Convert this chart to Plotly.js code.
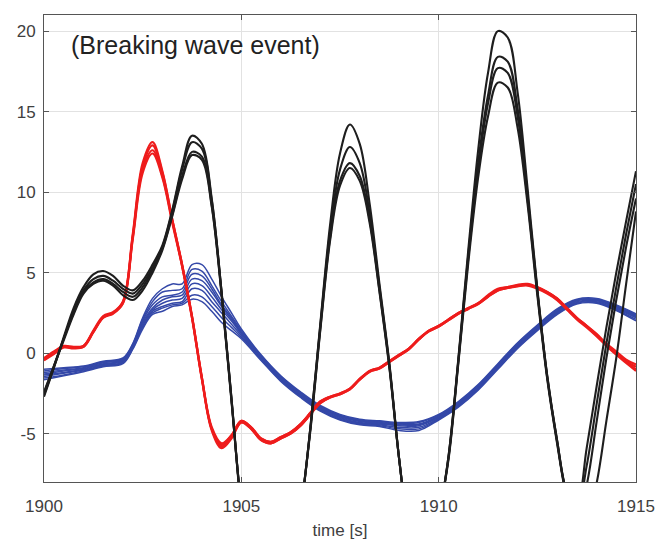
<!DOCTYPE html>
<html>
<head>
<meta charset="utf-8">
<script src="https://cdn.plot.ly/plotly-3.0.1.min.js"></script>
<style>
  html, body { margin: 0; padding: 0; background: #fff; }
  #chart { width: 657px; height: 540px; }
</style>
</head>
<body>
<div id="chart"></div>
<script>
// Time samples (s) for the surface-elevation and red records
const timeFine = [
  1900.00, 1900.25, 1900.50, 1900.75, 1901.00, 1901.25, 1901.50, 1901.75,
  1902.00, 1902.25, 1902.50, 1902.75, 1903.00, 1903.25, 1903.50, 1903.75,
  1904.00, 1904.25, 1904.50, 1904.75, 1905.00, 1905.25, 1905.50, 1905.75,
  1906.00, 1906.25, 1906.50, 1906.75, 1907.00, 1907.25, 1907.50, 1907.75,
  1908.00, 1908.25, 1908.50, 1908.75, 1909.00, 1909.25, 1909.50, 1909.75,
  1910.00, 1910.25, 1910.50, 1910.75, 1911.00, 1911.25, 1911.50, 1911.75,
  1912.00, 1912.25, 1912.50, 1912.75, 1913.00, 1913.25, 1913.50, 1913.75,
  1914.00, 1914.25, 1914.50, 1914.75, 1915.00
];

// Black records (four runs)
const blackA = [-2.7, -0.9, 1.0, 2.8, 4.1, 4.9, 5.1, 4.8, 4.2, 3.9, 4.5, 5.5, 6.7, 8.9, 11.6, 13.5,
  13.0, 9.6, 3.8, -2.8, -9.8, -14.2, -16.6, -17.0, -16.0, -13.6, -10.0, -4.6, 1.8, 8.0, 12.4, 14.2,
  13.0, 9.3, 4.3, -0.6, -6.6, -11.4, -14.0, -13.6, -10.4, -6.4, -0.3, 6.4, 12.6, 17.4, 20.0, 19.6,
  16.2, 10.3, 4.0, -1.4, -5.4, -8.6, -9.4, -5.9, -2.1, 1.6, 5.0, 8.2, 11.3];
const blackB = [-2.6, -0.9, 0.9, 2.6, 3.9, 4.6, 4.8, 4.5, 4.0, 3.7, 4.3, 5.3, 6.6, 8.8, 11.4, 13.1,
  12.7, 9.5, 3.8, -2.8, -9.6, -14.0, -16.4, -16.8, -15.8, -13.4, -9.9, -4.6, 1.7, 7.6, 11.4, 12.8,
  11.8, 8.7, 4.1, -0.7, -6.6, -11.3, -13.8, -13.4, -10.3, -6.4, -0.4, 6.1, 11.8, 16.0, 18.4, 18.1,
  15.2, 9.9, 3.9, -1.4, -5.4, -8.7, -9.8, -7.0, -3.2, 0.6, 4.1, 7.4, 10.5];
const blackC = [-2.5, -0.8, 0.9, 2.5, 3.8, 4.4, 4.6, 4.3, 3.8, 3.5, 4.1, 5.2, 6.5, 8.6, 11.0, 12.5,
  12.2, 9.2, 3.7, -2.9, -9.6, -13.9, -16.2, -16.6, -15.6, -13.3, -9.8, -4.7, 1.5, 7.2, 10.7, 11.8,
  11.0, 8.3, 3.9, -0.8, -6.6, -11.2, -13.6, -13.2, -10.2, -6.5, -0.5, 5.9, 11.4, 15.5, 17.7, 17.4,
  14.7, 9.6, 3.8, -1.5, -5.5, -8.9, -10.4, -8.2, -4.3, -0.3, 3.3, 6.6, 9.6];
const blackD = [-2.4, -0.8, 0.8, 2.4, 3.7, 4.3, 4.5, 4.2, 3.6, 3.3, 3.9, 5.0, 6.4, 8.5, 10.8, 12.3,
  12.0, 9.1, 3.6, -3.0, -9.5, -13.8, -16.1, -16.5, -15.5, -13.2, -9.8, -4.8, 1.4, 7.0, 10.4, 11.5,
  10.7, 8.1, 3.8, -0.9, -6.6, -11.1, -13.5, -13.1, -10.2, -6.6, -0.6, 5.6, 10.9, 14.7, 16.8, 16.5,
  14.0, 9.3, 3.6, -1.6, -5.6, -9.1, -11.2, -10.4, -8.1, -4.2, -0.3, 4.3, 8.8];

// Red records (four runs)
const redA = [-0.3, 0.1, 0.45, 0.4, 0.45, 1.4, 2.3, 2.55, 3.2, 7.4, 11.8, 13.1, 11.3, 8.3, 5.5, 2.3,
  -1.5, -4.7, -5.7, -5.1, -4.2, -4.6, -5.3, -5.5, -5.2, -4.9, -4.4, -3.7, -3.0, -2.7, -2.5, -2.2,
  -1.6, -1.1, -0.9, -0.5, -0.1, 0.3, 0.9, 1.4, 1.7, 2.1, 2.5, 2.8, 3.1, 3.6, 4.0, 4.1,
  4.25, 4.3, 4.1, 3.8, 3.4, 2.8, 2.2, 1.7, 1.2, 0.6, 0.1, -0.4, -0.7];
const redB = [-0.35, 0.05, 0.4, 0.35, 0.45, 1.35, 2.25, 2.5, 3.2, 7.3, 11.6, 12.9, 11.2, 8.3, 5.5, 2.3,
  -1.5, -4.6, -5.6, -5.1, -4.2, -4.6, -5.3, -5.5, -5.2, -4.9, -4.4, -3.7, -3.0, -2.7, -2.5, -2.2,
  -1.6, -1.1, -0.9, -0.5, -0.1, 0.3, 0.9, 1.4, 1.7, 2.1, 2.5, 2.8, 3.1, 3.55, 3.95, 4.1,
  4.2, 4.25, 4.1, 3.8, 3.4, 2.8, 2.2, 1.7, 1.15, 0.55, 0.0, -0.5, -0.85];
const redC = [-0.4, 0.0, 0.4, 0.35, 0.4, 1.3, 2.2, 2.5, 3.1, 7.2, 11.4, 12.6, 11.0, 8.2, 5.4, 2.2,
  -1.6, -4.7, -5.8, -5.2, -4.3, -4.7, -5.4, -5.6, -5.3, -5.0, -4.5, -3.8, -3.1, -2.75, -2.55, -2.25,
  -1.65, -1.15, -0.95, -0.55, -0.15, 0.25, 0.85, 1.35, 1.65, 2.05, 2.45, 2.75, 3.05, 3.5, 3.9, 4.05,
  4.2, 4.25, 4.05, 3.75, 3.35, 2.75, 2.15, 1.65, 1.1, 0.5, -0.05, -0.55, -1.0];
const redD = [-0.45, -0.05, 0.35, 0.3, 0.4, 1.3, 2.2, 2.45, 3.1, 7.1, 11.2, 12.4, 10.9, 8.1, 5.4, 2.2,
  -1.6, -4.8, -5.9, -5.3, -4.3, -4.7, -5.4, -5.6, -5.3, -5.0, -4.5, -3.8, -3.1, -2.75, -2.55, -2.25,
  -1.65, -1.15, -0.95, -0.55, -0.15, 0.25, 0.85, 1.35, 1.65, 2.05, 2.45, 2.75, 3.05, 3.5, 3.9, 4.05,
  4.15, 4.2, 4.0, 3.7, 3.3, 2.7, 2.1, 1.6, 1.05, 0.45, -0.1, -0.6, -1.1];

// Time samples (s) for the blue records
const timeBlue = [1900, 1900.5, 1901, 1901.5, 1902, 1902.25, 1902.5, 1902.75, 1903, 1903.25,
  1903.5, 1903.75, 1904, 1904.25, 1904.5, 1904.75, 1905, 1905.5, 1906, 1906.5, 1907, 1907.5,
  1908, 1908.5, 1909, 1909.5, 1910, 1910.5, 1911, 1911.5, 1912, 1912.5, 1913, 1913.5, 1914,
  1914.5, 1915];

// Blue records (eight runs)
const blue1 = [-1.0, -0.9, -0.8, -0.5, -0.3, 0.6, 2.2, 3.4, 4.0, 4.3, 4.3, 5.5, 5.5, 4.6, 3.5, 2.5, 1.5,
  -0.1, -1.4, -2.4, -3.25, -3.8, -4.1, -4.2, -4.3, -4.25, -3.8, -3.0, -1.95, -0.65, 0.65, 1.75, 2.75, 3.35, 3.4, 3.0, 2.45];
const blue2 = [-1.1, -0.95, -0.85, -0.55, -0.35, 0.55, 2.1, 3.2, 3.8, 3.9, 4.0, 5.2, 5.1, 4.2, 3.2, 2.3, 1.4,
  -0.15, -1.45, -2.45, -3.3, -3.85, -4.15, -4.25, -4.35, -4.3, -3.85, -3.05, -2.0, -0.7, 0.6, 1.7, 2.7, 3.3, 3.35, 2.95, 2.4];
const blue3 = [-1.2, -1.05, -0.9, -0.6, -0.4, 0.5, 2.0, 3.0, 3.5, 3.6, 3.8, 4.9, 4.8, 4.0, 3.0, 2.2, 1.3,
  -0.2, -1.5, -2.5, -3.35, -3.9, -4.2, -4.3, -4.4, -4.4, -3.9, -3.1, -2.05, -0.75, 0.55, 1.65, 2.65, 3.3, 3.3, 2.9, 2.35];
const blue4 = [-1.3, -1.1, -0.95, -0.65, -0.45, 0.45, 1.9, 2.8, 3.3, 3.5, 3.6, 4.6, 4.5, 3.8, 2.9, 2.1, 1.25,
  -0.25, -1.55, -2.55, -3.4, -3.95, -4.25, -4.35, -4.45, -4.45, -3.95, -3.15, -2.1, -0.8, 0.5, 1.6, 2.6, 3.25, 3.3, 2.85, 2.3];
const blue5 = [-1.35, -1.2, -1.0, -0.7, -0.5, 0.4, 1.8, 2.7, 3.1, 3.3, 3.4, 4.3, 4.2, 3.5, 2.7, 2.0, 1.2,
  -0.3, -1.6, -2.6, -3.45, -4.0, -4.3, -4.4, -4.5, -4.5, -4.0, -3.2, -2.15, -0.85, 0.45, 1.55, 2.55, 3.2, 3.25, 2.8, 2.25];
const blue6 = [-1.45, -1.25, -1.05, -0.75, -0.55, 0.35, 1.7, 2.6, 2.9, 3.1, 3.2, 4.0, 3.9, 3.2, 2.5, 1.8, 1.1,
  -0.35, -1.65, -2.65, -3.5, -4.05, -4.35, -4.45, -4.6, -4.6, -4.05, -3.25, -2.2, -0.9, 0.4, 1.5, 2.5, 3.15, 3.2, 2.75, 2.2];
const blue7 = [-1.55, -1.35, -1.1, -0.8, -0.6, 0.3, 1.6, 2.5, 2.8, 3.0, 3.1, 3.6, 3.5, 2.9, 2.2, 1.6, 1.0,
  -0.4, -1.7, -2.7, -3.55, -4.1, -4.4, -4.5, -4.7, -4.7, -4.1, -3.3, -2.25, -0.95, 0.35, 1.45, 2.45, 3.1, 3.15, 2.7, 2.1];
const blue8 = [-1.65, -1.4, -1.15, -0.85, -0.65, 0.25, 1.5, 2.4, 2.6, 2.9, 3.0, 3.35, 3.2, 2.6, 1.9, 1.4, 0.9,
  -0.45, -1.75, -2.75, -3.6, -4.15, -4.45, -4.55, -4.8, -4.8, -4.15, -3.35, -2.3, -1.0, 0.3, 1.4, 2.4, 3.05, 3.1, 2.65, 2.0];

// Axis ticks
const xTickVals = [1900, 1905, 1910, 1915];
const xTickText = ['1900', '1905', '1910', '1915'];
const yTickVals = [-5, 0, 5, 10, 15, 20];
const yTickText = ['-5', '0', '5', '10', '15', '20'];

const eventLabel = '(Breaking wave event)';
const xLabel = 'time [s]';

function lineTrace(x, y, color, width) {
  return {
    x: x, y: y, type: 'scatter', mode: 'lines',
    line: { color: color, width: width, shape: 'spline', smoothing: 1 },
    hoverinfo: 'skip', showlegend: false
  };
}

const BLUE = '#3448a8';
const RED = '#ee1c1c';
const BLACK = '#1e1e1e';

const traces = [];
[blue1, blue2, blue3, blue4, blue5, blue6, blue7, blue8].forEach(function (s) {
  traces.push(lineTrace(timeBlue, s, BLUE, 1.5));
});
[redA, redB, redC, redD].forEach(function (s) {
  traces.push(lineTrace(timeFine, s, RED, 2.2));
});
[blackA, blackB, blackC, blackD].forEach(function (s) {
  traces.push(lineTrace(timeFine, s, BLACK, 2.1));
});

const tickFont = { family: 'Liberation Sans, Arial, sans-serif', size: 17, color: '#404040' };

const axisCommon = {
  showgrid: true,
  gridcolor: '#e2e2e2',
  gridwidth: 1,
  zeroline: false,
  showline: true,
  linecolor: '#555555',
  linewidth: 1,
  mirror: 'ticks',
  ticks: 'inside',
  ticklen: 5,
  tickwidth: 1,
  tickcolor: '#555555',
  tickmode: 'array',
  tickfont: tickFont
};

const layout = {
  width: 657,
  height: 540,
  margin: { l: 44, r: 21, t: 15, b: 58 },
  paper_bgcolor: '#ffffff',
  plot_bgcolor: '#ffffff',
  showlegend: false,
  xaxis: Object.assign({}, axisCommon, {
    range: [1900, 1915],
    tickvals: xTickVals,
    ticktext: xTickText,
    ticklabelstandoff: 9,
    title: { text: xLabel, font: { family: 'Liberation Sans, Arial, sans-serif', size: 17, color: '#404040' }, standoff: 8 }
  }),
  yaxis: Object.assign({}, axisCommon, {
    range: [-8, 21],
    tickvals: yTickVals,
    ticktext: yTickText,
    ticklabelstandoff: 4
  }),
  annotations: [{
    text: eventLabel,
    xref: 'paper', yref: 'paper',
    x: 0.043, y: 0.935,
    xanchor: 'left', yanchor: 'middle',
    showarrow: false,
    font: { family: 'Liberation Sans, Arial, sans-serif', size: 25, color: '#222222' }
  }]
};

Plotly.newPlot('chart', traces, layout, { displayModeBar: false, staticPlot: true });
</script>
</body>
</html>
